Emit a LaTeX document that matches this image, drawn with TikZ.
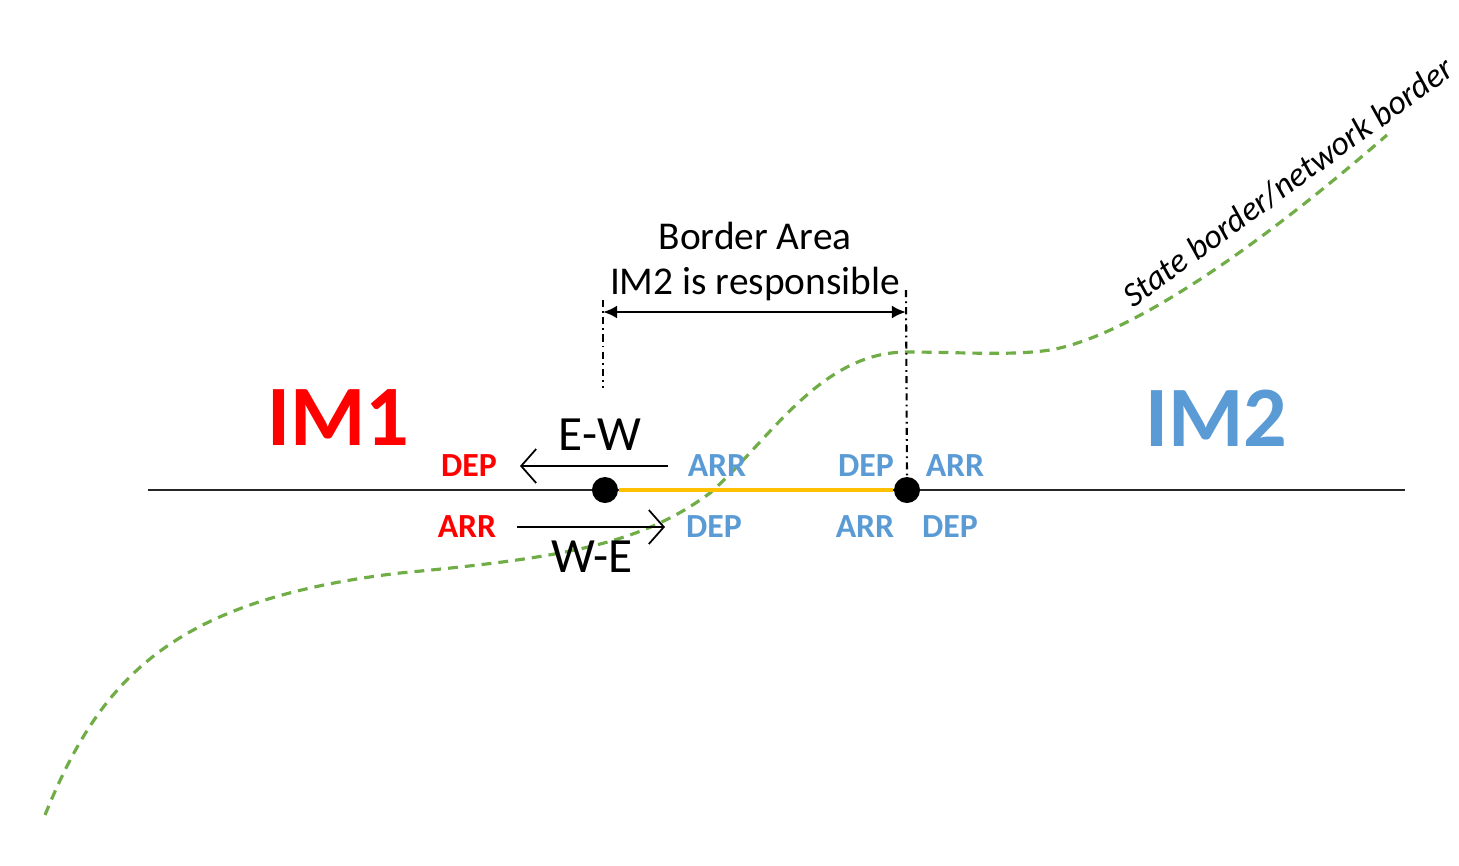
\documentclass[tikz,border=0pt]{standalone}
\usepackage{fontspec}
\setmainfont{Carlito}
\usetikzlibrary{arrows.meta}
\usetikzlibrary{positioning}

\begin{document}
\begin{tikzpicture}[x=0.01cm,y=-0.01cm,line cap=butt,track/.style={line width=0.6pt,black!85},station/.style={circle,fill=black,inner sep=0pt,minimum size=0.26cm},im label/.style={font=\fontsize{24.5}{29}\selectfont\bfseries},dir label/.style={font=\fontsize{9.6}{12}\selectfont\bfseries,inner sep=1pt},flow label/.style={font=\fontsize{14}{17}\selectfont,inner sep=1pt},limit line/.style={line width=0.6pt,dash pattern=on 2pt off 1.2pt on 0.5pt off 1.2pt},flow arrow/.style={line width=0.5pt,-{Straight Barb[length=1.5mm,width=3.4mm]}}]
 \definecolor{imonecolor}{HTML}{FF0000}
 \definecolor{imtwocolor}{HTML}{5B9BD5}
 \definecolor{areacolor}{HTML}{FFC000}
 \definecolor{bordercolor}{HTML}{70AD47}

 \useasboundingbox (0,0) rectangle (1459,866);

 % state border
 \draw[bordercolor,line width=0.9pt,dash pattern=on 2.8pt off 2pt]
    (45,815) .. controls (100,680) and (170,600) .. (400,573)
    .. controls (560,558) and (640,545) .. (710,493)
    .. controls (770,440) and (820,352) .. (907,352)
    .. controls (960,352) and (1010,356) .. (1050,350)
    .. controls (1110,340) and (1220,280) .. (1387,135);
 \node[rotate=36,font=\fontsize{9.7}{12}\selectfont\itshape] (state border) at (1288,182) {State border/network border};

 % track
 \coordinate (track west) at (148,490);
 \coordinate (track east) at (1405,490);
 \draw[track] (track west) -- (track east);
 \node[station] (left stop) at (605,490) {};
 \node[station] (right stop) at (907,490) {};
 \draw[areacolor,line width=1.4pt] (left stop) -- (right stop);

 % border area
 \coordinate (area west top) at (603,300);
 \coordinate (area west foot) at (603,388);
 \coordinate (area east top) at (906,290);
 \draw[limit line] (area west top) -- (area west foot);
 \draw[limit line] (area east top) -- (right stop.north);
 \coordinate (span west) at (603,312);
 \coordinate (span east) at (906,312);
 \draw[line width=0.8pt,{Latex[length=1.4mm,width=1.3mm]}-{Latex[length=1.4mm,width=1.3mm]}] (span west) -- (span east);
 \node[font=\fontsize{11.2}{14}\selectfont] (area title) at (755,236) {Border Area};
 \node[font=\fontsize{11.2}{14}\selectfont] (area owner) at (755,284) {IM2 is responsible};

 % infrastructure managers
 \node[im label,imonecolor] (im1) at (338,418) {IM1};
 \node[im label,imtwocolor] (im2) at (1216,418) {IM2};

 \node[dir label,imonecolor] (dep im1) at (469,466) {DEP};
 \node[dir label,imonecolor] (arr im1) at (467,527) {ARR};
 \foreach \name/\x/\y/\txt in {arr a/717/466/ARR,dep b/866/466/DEP,arr c/955/466/ARR,dep a/714/527/DEP,arr b/865/527/ARR,dep c/950/527/DEP}
    \node[dir label,imtwocolor] (\name) at (\x,\y) {\txt};

 % directions
 \node[flow label] (ew) at (600,435) {E-W};
 \node[flow label] (we) at (592,557) {W-E};
 \coordinate (ew start) at (668,466);
 \coordinate (ew end) at (520,466);
 \coordinate (we start) at (517,527);
 \coordinate (we end) at (665,527);
 \draw[flow arrow] (ew start) -- (ew end);
 \draw[flow arrow] (we start) -- (we end);
\end{tikzpicture}
\end{document}
